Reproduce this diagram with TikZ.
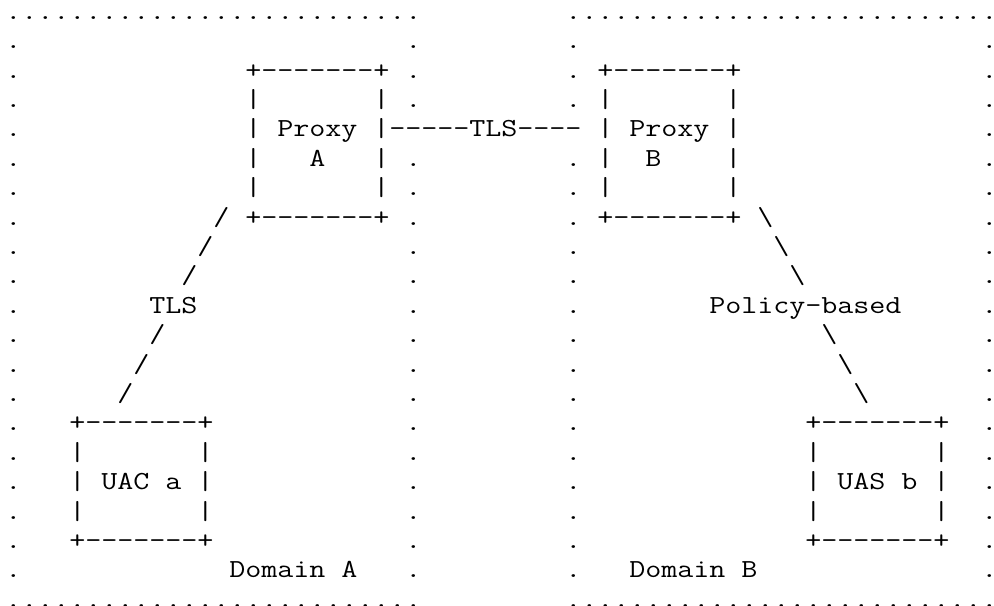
\documentclass[tikz,border=0pt]{standalone}
\usepackage{graphicx}
\newcount\asccol
% place a string character by character, one per 16px column
\newcommand\ascrow[3]{\asccol=#1\relax\def\ascr{#2}\ascloop#3\relax}
\def\ascloop#1{\ifx\relax#1\else
  \edef\ascx{\the\asccol}\edef\ascname{c\ascx-\ascr}%
  \node[asc] (\ascname) at (\ascx,\ascr) {\scalebox{1.2}[1]{#1}};%
  \advance\asccol by 1\relax
  \expandafter\ascloop\fi}
\begin{document}
\begin{tikzpicture}[x=8pt,y=-14.7pt,
  asc/.style={inner sep=0pt,outer sep=0pt,anchor=base,text=black,
    font=\ttfamily\fontsize{13pt}{14.7pt}\selectfont}]
\useasboundingbox[fill=white] (-0.831,-0.656) rectangle (61.294,19.922);
% domain borders: top and bottom rows of dots
\ascrow{0}{0}{..........................}
\ascrow{35}{0}{...........................}
\ascrow{0}{20}{..........................}
\ascrow{35}{20}{...........................}
\foreach \r in {1,2,...,19}{\ascrow{0}{\r}{.}\ascrow{61}{\r}{.}}
\foreach \r in {1,2,3,5,6,7,8,9,10,11,12,13,14,15,16,17,18,19}{\ascrow{25}{\r}{.}\ascrow{35}{\r}{.}}
% Proxy A
\ascrow{15}{2}{+-------+}
\foreach \r in {3,4,5,6}{\ascrow{15}{\r}{|}\ascrow{23}{\r}{|}}
\ascrow{17}{4}{Proxy}
\ascrow{19}{5}{A}
\ascrow{15}{7}{+-------+}
% Proxy B
\ascrow{37}{2}{+-------+}
\foreach \r in {3,4,5,6}{\ascrow{37}{\r}{|}\ascrow{45}{\r}{|}}
\ascrow{39}{4}{Proxy}
\ascrow{40}{5}{B}
\ascrow{37}{7}{+-------+}
% TLS between proxies
\ascrow{24}{4}{-----TLS----}
% UAC a
\ascrow{4}{14}{+-------+}
\foreach \r in {15,16,17}{\ascrow{4}{\r}{|}\ascrow{12}{\r}{|}}
\ascrow{6}{16}{UAC}
\ascrow{10}{16}{a}
\ascrow{4}{18}{+-------+}
% UAS b
\ascrow{50}{14}{+-------+}
\foreach \r in {15,16,17}{\ascrow{50}{\r}{|}\ascrow{58}{\r}{|}}
\ascrow{52}{16}{UAS}
\ascrow{56}{16}{b}
\ascrow{50}{18}{+-------+}
% TLS link UAC a -- Proxy A
\ascrow{13}{7}{/}
\ascrow{12}{8}{/}
\ascrow{11}{9}{/}
\ascrow{9}{10}{TLS}
\ascrow{9}{11}{/}
\ascrow{8}{12}{/}
\ascrow{7}{13}{/}
% Policy-based link Proxy B -- UAS b
\ascrow{47}{7}{\textbackslash}
\ascrow{48}{8}{\textbackslash}
\ascrow{49}{9}{\textbackslash}
\ascrow{44}{10}{Policy-based}
\ascrow{51}{11}{\textbackslash}
\ascrow{52}{12}{\textbackslash}
\ascrow{53}{13}{\textbackslash}
% domain labels
\ascrow{14}{19}{Domain}
\ascrow{21}{19}{A}
\ascrow{39}{19}{Domain}
\ascrow{46}{19}{B}
\end{tikzpicture}
\end{document}
